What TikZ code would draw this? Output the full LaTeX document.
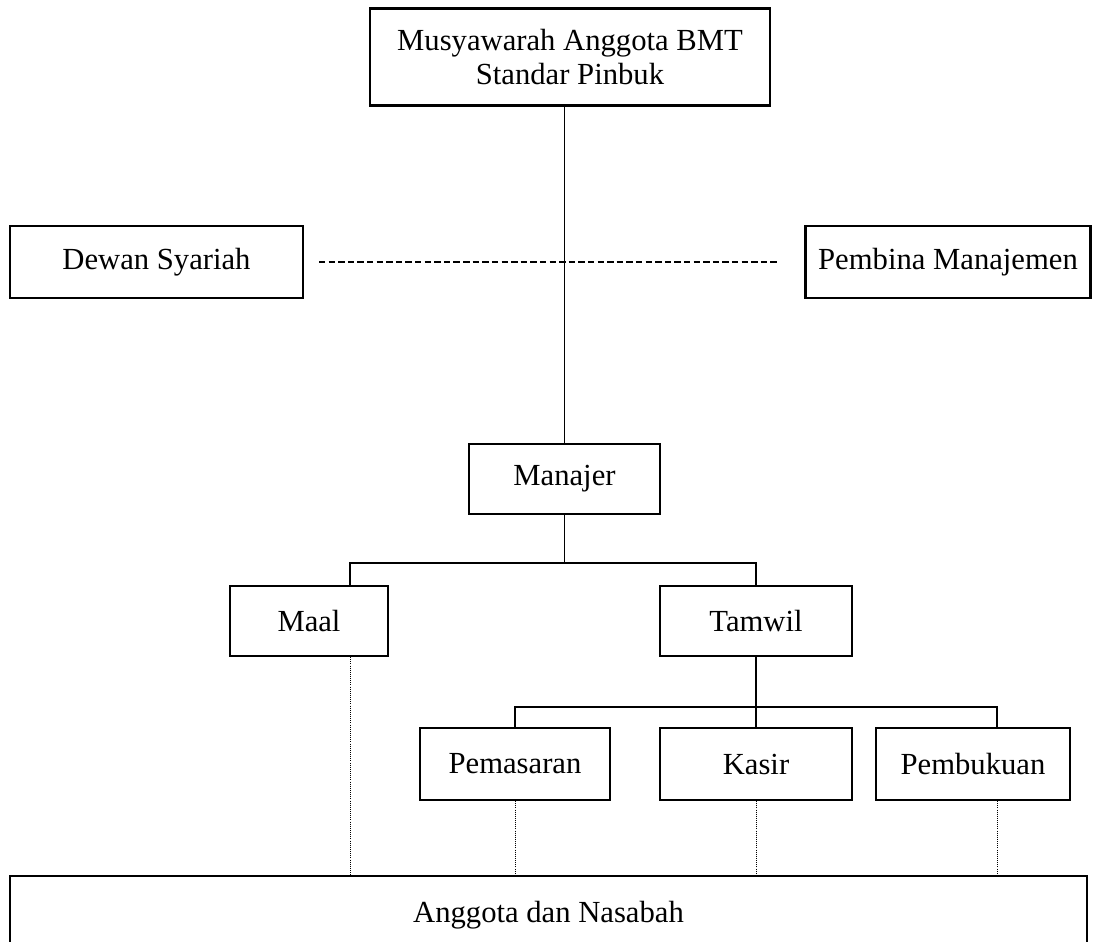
\documentclass[tikz,border=0pt]{standalone}
\usepackage{fontspec}
\setmainfont{Liberation Serif}
\usetikzlibrary{calc}

\newcommand{\pxu}{0.025cm}

\tikzset{
  box/.style={draw, line width=1.5pt, inner sep=0pt, align=center,
    font=\fontsize{21.8}{24}\selectfont},
  sz/.style 2 args={minimum width=#1*\pxu, minimum height=#2*\pxu},
  conn/.style={line width=1.3pt},
  dashline/.style={line width=1pt, dash pattern=on 1.6mm off 0.8mm},
  dotline/.style={line width=0.6pt, dash pattern=on 0.6pt off 0.9pt}
}

\begin{document}
\begin{tikzpicture}[x=\pxu, y=-\pxu]
	\clip (0,0) rectangle (1096,941);

	% boxes
	\node[box, sz={400}{97}] (musyawarah) at (570,57) {Musyawarah Anggota BMT\\Standar Pinbuk};
	\node[box, sz={293}{72}] (dewan) at (156.5,262) {Dewan Syariah};
	\node[box, sz={285}{72}] (pembina) at (948,262) {Pembina Manajemen};
	\node[box, sz={191}{70}] (manajer) at (564.5,479) {Manajer};
	\node[box, sz={158}{70}] (maal) at (309,621) {Maal};
	\node[box, sz={192}{70}] (tamwil) at (756,621) {Tamwil};
	\node[box, sz={190}{72}] (pemasaran) at (515,764) {Pemasaran};
	\node[box, sz={192}{72}] (kasir) at (756,764) {Kasir};
	\node[box, sz={194}{72}] (pembukuan) at (973,764) {Pembukuan};
	\node[box, sz={1077}{78}] (anggota) at (548.5,915) {Anggota dan Nasabah};

	% lines
	\draw[conn] (manajer.north) -- (manajer.north |- musyawarah.south);
	\draw[dashline] ($(dewan.east)+(15,0)$) -- ($(pembina.west)+(-25,0)$);

	\coordinate (mj) at (manajer.south |- 0,563);
	\coordinate (maalq) at ($(maal.north)+(41,0)$);
	\draw[conn] (manajer.south) -- (mj);
	\draw[conn] (maalq) |- (mj) -| (tamwil.north);

	\coordinate (tj) at (tamwil.south |- 0,707);
	\coordinate (pembq) at ($(pembukuan.north)+(24,0)$);
	\draw[conn] (tamwil.south) -- (kasir.north);
	\draw[conn] (pemasaran.north) |- (tj) -| (pembq);

	% dotted links down to anggota
	\coordinate (maalp) at ($(maal.south)+(41,0)$);
	\coordinate (pembp) at ($(pembukuan.south)+(24,0)$);
	\draw[dotline] (maalp) -- (maalp |- anggota.north);
	\draw[dotline] (pemasaran.south) -- (pemasaran.south |- anggota.north);
	\draw[dotline] (kasir.south) -- (kasir.south |- anggota.north);
	\draw[dotline] (pembp) -- (pembp |- anggota.north);
\end{tikzpicture}
\end{document}
